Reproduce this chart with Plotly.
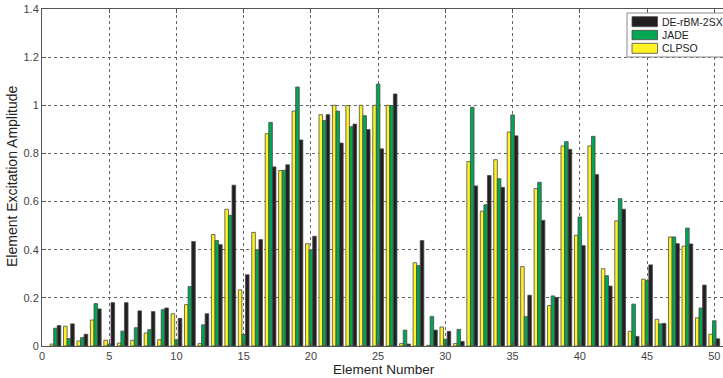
import plotly.graph_objects as go

elements = list(range(1, 51))

clpso = [0.008, 0.082, 0.021, 0.108, 0.024, 0.012, 0.024, 0.054, 0.026, 0.134,
         0.172, 0.010, 0.463, 0.568, 0.233, 0.472, 0.882, 0.729, 0.976, 0.425,
         0.961, 1.000, 0.999, 1.000, 1.000, 1.000, 0.010, 0.346, 0.003, 0.079,
         0.010, 0.766, 0.560, 0.774, 0.889, 0.330, 0.654, 0.168, 0.831, 0.460,
         0.831, 0.321, 0.520, 0.061, 0.278, 0.111, 0.453, 0.415, 0.117, 0.049]

jade = [0.074, 0.031, 0.035, 0.176, 0.008, 0.062, 0.076, 0.068, 0.151, 0.026,
        0.247, 0.088, 0.438, 0.543, 0.048, 0.400, 0.929, 0.730, 1.076, 0.399,
        0.937, 0.976, 0.911, 0.957, 1.088, 0.999, 0.066, 0.334, 0.123, 0.028,
        0.069, 0.992, 0.587, 0.695, 0.960, 0.122, 0.680, 0.208, 0.849, 0.536,
        0.871, 0.292, 0.612, 0.174, 0.272, 0.092, 0.453, 0.490, 0.158, 0.105]

de_rbm = [0.085, 0.092, 0.049, 0.154, 0.180, 0.180, 0.146, 0.143, 0.158, 0.115,
          0.434, 0.134, 0.421, 0.668, 0.296, 0.442, 0.744, 0.753, 0.856, 0.456,
          0.961, 0.843, 0.922, 0.899, 0.819, 1.047, 0.008, 0.438, 0.066, 0.061,
          0.019, 0.665, 0.708, 0.659, 0.873, 0.211, 0.522, 0.202, 0.817, 0.417,
          0.712, 0.249, 0.568, 0.040, 0.337, 0.094, 0.425, 0.424, 0.253, 0.030]

x_ticks = [0, 5, 10, 15, 20, 25, 30, 35, 40, 45, 50]
y_ticks = [0, 0.2, 0.4, 0.6, 0.8, 1.0, 1.2, 1.4]
y_tick_labels = ["0", "0.2", "0.4", "0.6", "0.8", "1", "1.2", "1.4"]

series_names = ["CLPSO", "JADE", "DE-rBM-2SX"]
series_colors = ["#fff225", "#00a651", "#231f20"]
series_values = [clpso, jade, de_rbm]

W, H = 723, 378
ML, MR, MT, MB = 42, 0, 9, 32
PW, PH = W - ML - MR, H - MT - MB


def px_x(px):
    return (px - ML) / PW


def px_y(py):
    return (H - MB - py) / PH


edge = dict(color="#4a4a4a", width=0.8)
font_family = "Liberation Sans, Arial, sans-serif"

fig = go.Figure()
for name, color, vals in zip(series_names, series_colors, series_values):
    fig.add_trace(go.Bar(x=elements, y=vals, name=name,
                         marker=dict(color=color, line=edge)))

# custom legend (MATLAB style): box, wide swatches, labels
shapes = [dict(type="rect", xref="paper", yref="paper",
               x0=px_x(627), x1=px_x(745), y0=px_y(57), y1=px_y(13),
               fillcolor="white", line=dict(color="#8a8a8a", width=1), layer="above")]
annotations = []
legend_rows = [(16.7, 26.7), (30.3, 39.7), (43.3, 53.3)]
for (name, color), (y0, y1) in zip(reversed(list(zip(series_names, series_colors))), legend_rows):
    shapes.append(dict(type="rect", xref="paper", yref="paper",
                       x0=px_x(632), x1=px_x(657.5), y0=px_y(y1), y1=px_y(y0),
                       fillcolor=color, line=dict(color="#4a4a4a", width=0.8), layer="above"))
    annotations.append(dict(text=name, xref="paper", yref="paper",
                            x=px_x(659.5), y=px_y((y0 + y1) / 2), xanchor="left", yanchor="middle",
                            showarrow=False,
                            font=dict(family=font_family, size=10.5, color="#222222")))

annotations += [
    dict(text="Element Number", xref="paper", yref="paper",
         x=px_x(384), y=px_y(369.5), xanchor="center", yanchor="middle", showarrow=False,
         font=dict(family=font_family, size=13.5, color="#222222")),
    dict(text="Element Excitation Amplitude", xref="paper", yref="paper",
         x=px_x(12), y=px_y(176), xanchor="center", yanchor="middle", showarrow=False,
         textangle=-90,
         font=dict(family=font_family, size=14, color="#222222")),
]

fig.update_layout(
    width=W, height=H,
    margin=dict(l=ML, r=MR, t=MT, b=MB, autoexpand=False),
    paper_bgcolor="white", plot_bgcolor="white",
    barmode="group", bargap=0.2, bargroupgap=0.0,
    font=dict(family=font_family, size=11, color="#333333"),
    showlegend=False,
    xaxis=dict(
        range=[0, 50.65], tickmode="array", tickvals=x_ticks,
        ticks="inside", ticklen=4, tickcolor="#555555",
        showline=True, linecolor="#555555", linewidth=1, mirror="ticks",
        showgrid=True, gridcolor="#666666", griddash="dot", gridwidth=1,
        zeroline=False, automargin=False,
        tickfont=dict(size=11, color="#444444"),
    ),
    yaxis=dict(
        range=[0, 1.4], tickmode="array", tickvals=y_ticks, ticktext=y_tick_labels,
        ticks="inside", ticklen=4, tickcolor="#555555",
        showline=True, linecolor="#555555", linewidth=1, mirror=False,
        showgrid=True, gridcolor="#666666", griddash="dot", gridwidth=1,
        zeroline=False, automargin=False,
        tickfont=dict(size=11, color="#444444"),
    ),
    shapes=shapes,
    annotations=annotations,
)

fig.write_html("out.html",
               config={"displayModeBar": False},
               post_script="document.body.style.margin='0';document.body.style.padding='0';")
